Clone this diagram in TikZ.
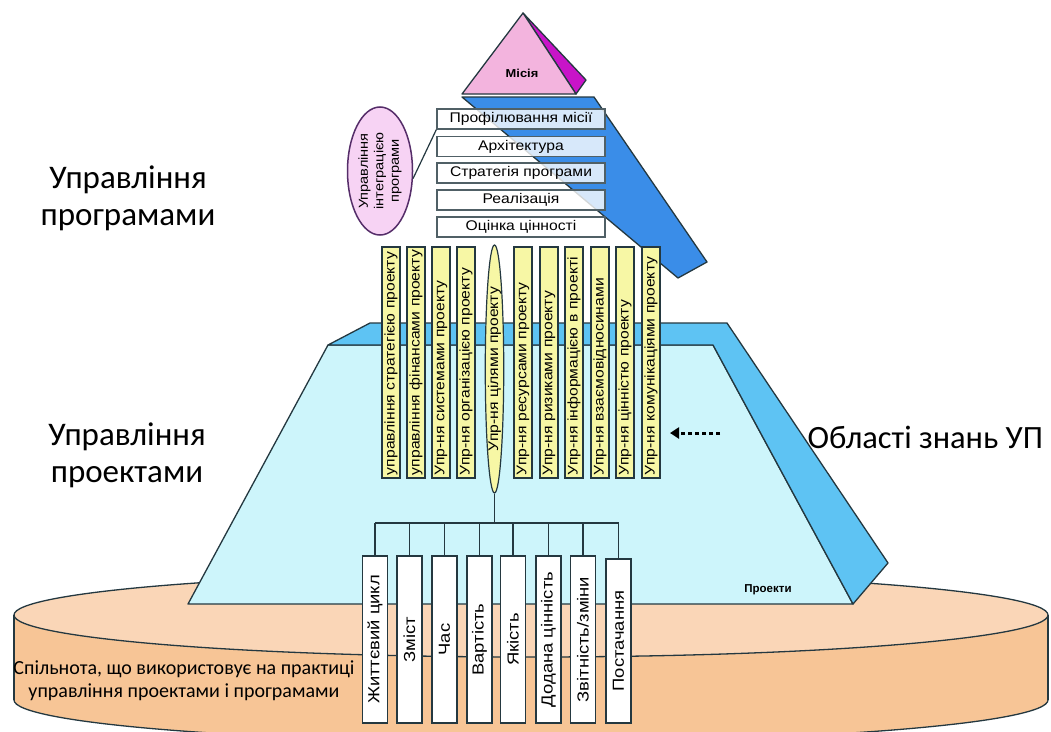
\documentclass[tikz,border=0pt]{standalone}
\usepackage{fontspec}
\setmainfont{Carlito}
\newfontfamily\arialf{Liberation Sans}
\newfontfamily\arialy[FakeStretch=1.12]{Liberation Sans}
\newfontfamily\arialw[FakeStretch=1.15]{Liberation Sans}
\usetikzlibrary{shapes.geometric,arrows.meta}
\definecolor{cylTop}{HTML}{FAD6B7}
\definecolor{cylSide}{HTML}{F7C596}
\definecolor{face}{HTML}{CDF5FB}
\definecolor{ext}{HTML}{5EC3F3}
\definecolor{progBlue}{HTML}{3A8DE8}
\definecolor{pinkTri}{HTML}{F3B4DE}
\definecolor{magentaC}{HTML}{C814C8}
\definecolor{ellPink}{HTML}{F7D3F4}
\definecolor{yel}{HTML}{F7F7A5}
\definecolor{lineC}{HTML}{243840}
\begin{document}
\begin{tikzpicture}[x=1pt,y=-1pt,
  outl/.style={draw=lineC, line width=1.3pt, line join=round},
  ybar/.style={draw=lineC, line width=1.2pt, fill=yel, rotate=90, minimum height=18pt,
    text width=225pt, align=left, inner xsep=3pt, inner ysep=0pt,
    font=\arialy\fontsize{14}{15}\selectfont},
  wbar/.style={draw=lineC, line width=1.2pt, fill=white, rotate=90, minimum height=25pt,
    minimum width=167pt, inner sep=0pt, font=\arialw\fontsize{16}{18}\selectfont},
  pbox/.style={draw=lineC!80, line width=1.5pt, fill=white, fill opacity=.8, text opacity=1,
    minimum width=168pt, minimum height=20pt, inner sep=0pt,
    font=\arialy\fontsize{14}{16}\selectfont},
  tree/.style={draw=lineC, line width=1.6pt},
  biglabel/.style={align=center, font=\fontsize{33}{37}\selectfont}
]
\useasboundingbox (0,0) rectangle (1051,731);
\fill[white] (0,0) rectangle (1051,731);

% cylinder
\filldraw[outl, fill=cylSide] (531,700) ellipse [x radius=517pt, y radius=42pt];
\fill[cylSide] (14,615) rectangle (1048,700);
\draw[outl] (14,615) -- (14,700);
\draw[outl] (1048,615) -- (1048,700);
\filldraw[outl, fill=cylTop] (531,615) ellipse [x radius=517pt, y radius=42pt];

% project level trapezoid
\filldraw[outl, fill=face] (328,345) -- (713,345) -- (853,604) -- (188,604) -- cycle;
\filldraw[outl, fill=ext] (328,345) -- (370,323) -- (727,323) -- (888,563) -- (853,604) -- (713,345) -- cycle;

% program level band
\filldraw[outl, fill=progBlue] (462,97) -- (594,97) -- (707,262) -- (678,278) -- cycle;

% mission pyramid
\filldraw[outl, fill=magentaC] (523,13) -- (586,80) -- (576,94) -- cycle;
\filldraw[outl, fill=pinkTri] (523,13) -- (576,94) -- (462,94) -- cycle;
\node[font=\arialy\bfseries\fontsize{11.5}{13}\selectfont] (mis) at (522,73) {Місія};

% program boxes
\node[pbox] (p1) at (521,119) {Профілювання місії};
\node[pbox] (p2) at (521,146.5) {Архітектура};
\node[pbox] (p3) at (521,173) {Стратегія програми};
\node[pbox] (p4) at (521,200) {Реалізація};
\node[pbox] (p5) at (521,227) {Оцінка цінності};

% integration ellipse
\node[ellipse, draw=lineC!70!magentaC, line width=1.5pt, fill=ellPink, rotate=90,
  minimum width=128pt, minimum height=65pt, inner sep=0pt, align=center,
  font=\arialy\fontsize{13}{15.5}\selectfont] (pe) at (380,171)
  {Управління\\інтеграцією\\програми};
\draw[line width=1.2pt, draw=lineC] (pe.-103) -- (p1.south west);

% knowledge areas
\node[ybar] (y1) at (391,362.5) {управління стратегією проекту};
\node[ybar] (y2) at (416,362.5) {управління фінансами проекту};
\node[ybar] (y3) at (441,362.5) {Упр-ня системами проекту};
\node[ybar] (y4) at (466,362.5) {Упр-ня організацією проекту};
\node[ellipse, draw=lineC, line width=1.2pt, fill=yel, rotate=90, minimum width=248pt,
  minimum height=16pt, inner sep=0pt, font=\arialy\fontsize{14}{15}\selectfont]
  (ye) at (494.5,369) {Упр-ня цілями проекту};
\node[ybar] (y6) at (523,362.5) {Упр-ня ресурсами проекту};
\node[ybar] (y7) at (549,362.5) {Упр-ня ризиками проекту};
\node[ybar] (y8) at (574,362.5) {Упр-ня інформацією в проекті};
\node[ybar] (y9) at (600,362.5) {Упр-ня взаємовідносинами};
\node[ybar] (y10) at (625,362.5) {Упр-ня цінністю проекту};
\node[ybar] (y11) at (651,362.5) {Упр-ня комунікаціями проекту};

% bottom bars
\node[wbar] (w1) at (375,639.5) {Життєвий цикл};
\node[wbar] (w2) at (409.5,639.5) {Зміст};
\node[wbar] (w3) at (444.5,639.5) {Час};
\node[wbar] (w4) at (479.5,639.5) {Вартість};
\node[wbar] (w5) at (513,639.5) {Якість};
\node[wbar] (w6) at (548.5,639.5) {Додана цінність};
\node[wbar] (w7) at (583,639.5) {Звітність/зміни};
\node[wbar, minimum width=164pt] (w8) at (618.5,641) {Постачання};

% tree
\coordinate (hb) at (494.5,523);
\draw[tree] (ye.west) -- (ye.west |- hb);
\draw[tree] (w1.east |- hb) -- (w8.east |- hb);
\foreach \i in {1,...,8} { \draw[tree] (w\i.east) -- (w\i.east |- hb); }

% dotted arrow
\coordinate (a1) at (720,433);
\coordinate (a2) at (670,433);
\draw[line width=3pt, draw=black, dash pattern=on 4pt off 3pt,
  -{Triangle[length=9pt,width=11pt]}] (a1) -- (a2);

% labels
\node[biglabel] (lp) at (128,198) {Управління\\програмами};
\node[biglabel] (lpr) at (127,455) {Управління\\проектами};
\node[anchor=west, font=\fontsize{32.5}{36}\selectfont] (kn) at (804,437) {Області знань УП};
\node[font=\arialf\bfseries\fontsize{11.5}{13}\selectfont] (pr) at (768,590) {Проекти};
\node[align=center, font=\fontsize{20}{23}\selectfont] (com) at (184,681)
  {Спільнота, що використовує на практиці\\управління проектами і програмами};
\end{tikzpicture}
\end{document}
